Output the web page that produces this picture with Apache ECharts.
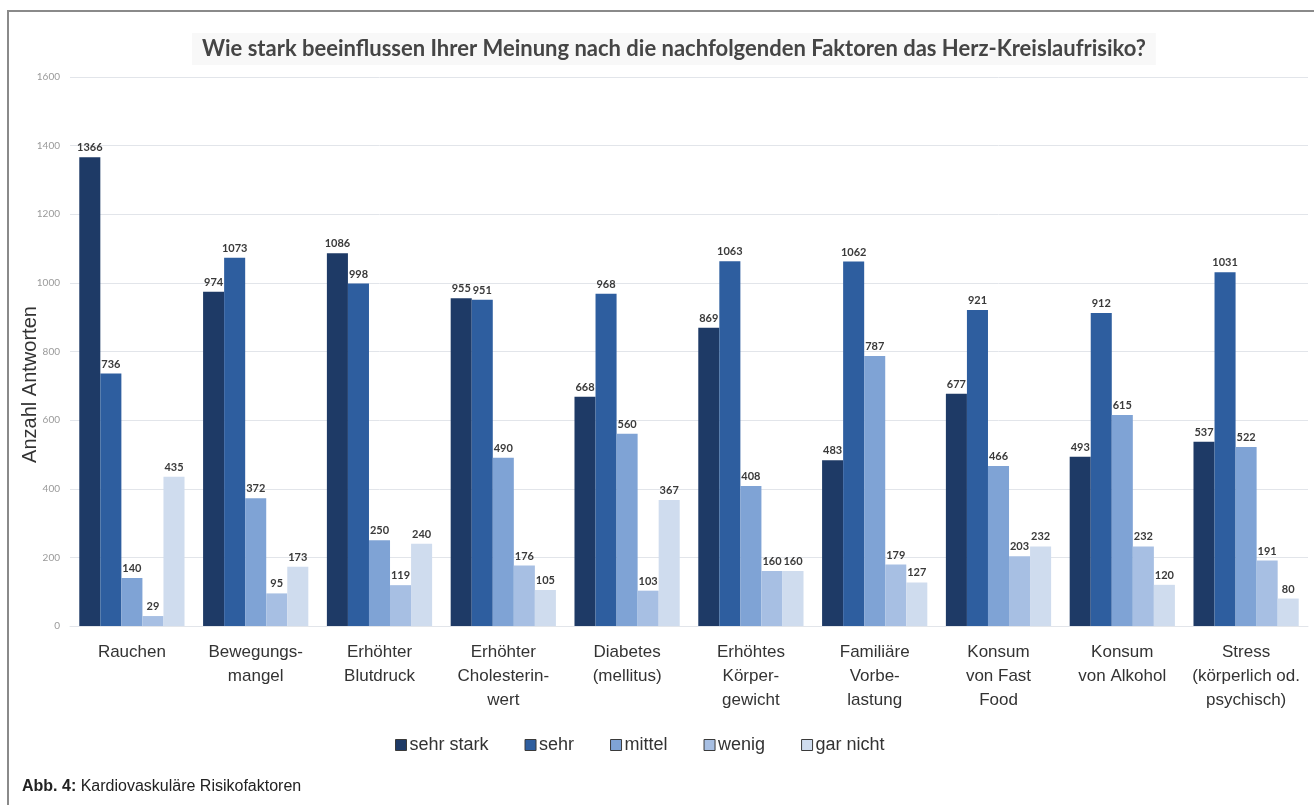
<!DOCTYPE html>
<html>
<head>
<meta charset="utf-8">
<script src="https://cdn.jsdelivr.net/npm/echarts@6/dist/echarts.min.js"></script>
<style>
  html, body { margin: 0; padding: 0; background: #fff; }
  #chart { width: 1314px; height: 805px; }
</style>
</head>
<body>
<div id="chart"></div>
<script>
// Risk factors (x categories)
const categories = [
  'Rauchen',
  'Bewegungs-\nmangel',
  'Erhöhter\nBlutdruck',
  'Erhöhter\nCholesterin-\nwert',
  'Diabetes\n(mellitus)',
  'Erhöhtes\nKörper-\ngewicht',
  'Familiäre\nVorbe-\nlastung',
  'Konsum\nvon Fast\nFood',
  'Konsum\nvon Alkohol',
  'Stress\n(körperlich od.\npsychisch)'
];

// Answers per rating
const sehrStark = [1366, 974, 1086, 955, 668, 869, 483, 677, 493, 537];
const sehr      = [736, 1073, 998, 951, 968, 1063, 1062, 921, 912, 1031];
const mittel    = [140, 372, 250, 490, 560, 408, 787, 466, 615, 522];
const wenig     = [29, 95, 119, 176, 103, 160, 179, 203, 232, 191];
const garNicht  = [435, 173, 240, 105, 367, 160, 127, 232, 120, 80];

const seriesNames = ['sehr stark', 'sehr', 'mittel', 'wenig', 'gar nicht'];
const seriesData = [sehrStark, sehr, mittel, wenig, garNicht];
const colors = ['#1e3a66', '#2e5e9f', '#7fa3d5', '#a7bfe3', '#cfdcee'];

// y-axis ticks
const yMin = 0, yMax = 1600, yStep = 200;

const chart = echarts.init(document.getElementById('chart'));

const series = seriesNames.map((name, i) => ({
  name: name,
  type: 'bar',
  data: seriesData[i],
  barGap: '0%',
  barCategoryGap: '15%',
  itemStyle: { color: colors[i] },
  label: {
    show: true,
    position: 'top',
    distance: 4,
    color: '#3a3a3a',
    fontFamily: 'Lato, "Open Sans", sans-serif',
    fontWeight: 'bold',
    fontSize: 11
  }
}));

chart.setOption({
  animation: false,
  color: colors,
  title: {
    text: 'Wie stark beeinflussen Ihrer Meinung nach die nachfolgenden Faktoren das Herz-Kreislaufrisiko?',
    left: 192,
    top: 33,
    padding: [5, 10],
    backgroundColor: '#f8f8f8',
    textStyle: {
      fontFamily: 'Lato, "Open Sans", sans-serif',
      fontWeight: 'bold',
      fontSize: 22,
      color: '#454545'
    }
  },
  grid: { left: 70, right: 6, top: 77, bottom: 179 },
  legend: {
    data: seriesNames,
    top: 731,
    left: 390,
    icon: 'rect',
    itemWidth: 11,
    itemHeight: 11,
    itemGap: 36,
    itemStyle: { borderColor: '#3a3a3a', borderWidth: 1 },
    textStyle: {
      fontFamily: '"Liberation Sans", Arial, sans-serif',
      fontSize: 18,
      color: '#333',
      padding: [0, 0, 0, -2]
    }
  },
  xAxis: {
    type: 'category',
    data: categories,
    axisTick: { show: false },
    axisLine: { lineStyle: { color: '#e2e5ea' } },
    axisLabel: {
      interval: 0,
      margin: 14,
      fontFamily: '"Liberation Sans", Arial, sans-serif',
      fontSize: 17,
      lineHeight: 24,
      color: '#333'
    }
  },
  yAxis: {
    type: 'value',
    min: yMin,
    max: yMax,
    interval: yStep,
    name: 'Anzahl Antworten',
    nameLocation: 'middle',
    nameGap: 30,
    nameMoveOverlap: false,
    nameTextStyle: {
      fontFamily: '"Liberation Sans", Arial, sans-serif',
      fontSize: 20,
      color: '#333',
      padding: [0, 66, 0, 0]
    },
    axisLabel: {
      margin: 10,
      fontFamily: 'Lato, sans-serif',
      fontSize: 10,
      color: '#9a9a9a',
      formatter: v => String(v)
    },
    splitLine: { lineStyle: { color: '#e2e5ea', width: 1 } }
  },
  graphic: [
    {
      type: 'polyline',
      shape: { points: [[8, 805], [8, 11], [1314, 11]] },
      style: { stroke: '#8a8a8a', lineWidth: 2, fill: null }
    },
    {
      type: 'text',
      left: 22,
      top: 779,
      style: {
        text: '{b|Abb. 4:} Kardiovaskuläre Risikofaktoren',
        rich: {
          b: { fontWeight: 'bold', fontSize: 16, fontFamily: '"Liberation Sans", Arial, sans-serif', fill: '#222' }
        },
        fontFamily: '"Liberation Sans", Arial, sans-serif',
        fontSize: 16,
        fill: '#222'
      }
    }
  ],
  series: series
});
</script>
</body>
</html>
